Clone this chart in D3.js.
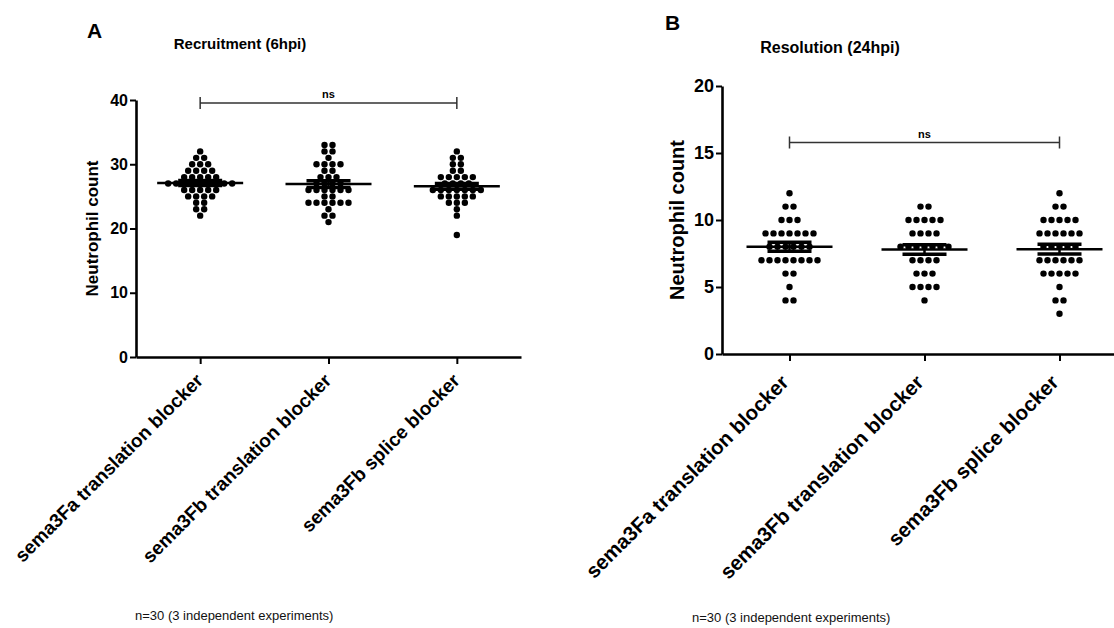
<!DOCTYPE html>
<html>
<head>
<meta charset="utf-8">
<script src="https://cdnjs.cloudflare.com/ajax/libs/d3/7.8.5/d3.min.js"></script>
<style>
  body { margin: 0; background: #fff; }
  svg { display: block; font-family: "Liberation Sans", Arial, sans-serif; }
  .axis path, .axis line { stroke: #000; }
  .axis text { fill: #000; font-weight: bold; font-family: "Liberation Sans", Arial, sans-serif; }
</style>
</head>
<body>
<div id="graph"></div>
<script>
const graphWidth = 1114;
const graphHeight = 628;

const groupNames = ['sema3Fa translation blocker', 'sema3Fb translation blocker', 'sema3Fb splice blocker'];

// neutrophil counts per larva
const recruitFaTrans = [32,31,31,30,30,30,29,29,29,29,28,28,28,28,28,27,27,27,27,27,27,27,27,27,26,26,26,26,26,25,25,25,25,24,24,23,23,22];
const recruitFbTrans = [33,33,32,32,31,30,30,30,30,29,29,28,28,28,27,27,27,27,26,26,26,26,26,26,25,25,24,24,24,24,24,24,23,22,22,21];
const recruitFbSplice = [32,31,31,30,30,29,29,28,28,28,28,28,27,27,27,27,26,26,26,26,26,26,26,25,25,25,25,25,24,24,24,23,22,19];

const resolveFaTrans = [12,11,11,10,10,10,9,9,9,9,9,9,9,8,8,8,8,8,8,7,7,7,7,7,7,7,7,6,6,5,4,4];
const resolveFbTrans = [11,11,10,10,10,10,10,9,9,9,9,8,8,8,8,8,8,8,7,7,7,7,6,6,6,5,5,5,5,4];
const resolveFbSplice = [12,11,11,10,10,10,10,10,9,9,9,9,9,9,8,8,8,8,8,7,7,7,7,7,7,6,6,6,6,6,5,4,4,3];

const recruitTicks = [0, 10, 20, 30, 40];
const resolveTicks = [0, 5, 10, 15, 20];

const panels = [
  {
    letter: 'A', title: 'Recruitment (6hpi)', data: [recruitFaTrans, recruitFbTrans, recruitFbSplice],
    ticks: recruitTicks, yMax: 40, nsLevel: 40,
    left: 136, right: 521, top: 100, bottom: 357,
    letterPos: [87, 38], titlePos: [240, 49], yLabelX: 98, footPos: [135, 620],
    tickFont: 16, labelFont: 17, catFont: 19, catOffset: [-15, 20], titleFont: 15
  },
  {
    letter: 'B', title: 'Resolution (24hpi)', data: [resolveFaTrans, resolveFbTrans, resolveFbSplice],
    ticks: resolveTicks, yMax: 20, nsLevel: 16,
    left: 722, right: 1127, top: 86, bottom: 354,
    letterPos: [665, 30], titlePos: [830, 53], yLabelX: 684, footPos: [692, 622],
    tickFont: 18, labelFont: 20, catFont: 20.5, catOffset: [-21, 21], titleFont: 16
  }
];

const dotRadius = 3.2;
const dotSpacing = 8;

function makeGraph() {
  const palette = d3.select('#graph').append('svg')
    .attr('width', graphWidth).attr('height', graphHeight);
  palette.append('rect').attr('width', graphWidth).attr('height', graphHeight).attr('fill', '#fff');
  panels.forEach(p => makePanel(palette.append('g'), p));
}

function makePanel(g, p) {
  const x = d3.scalePoint().domain(groupNames).range([p.left, p.right]).padding(0.5);
  const y = d3.scaleLinear().domain([0, p.yMax]).range([p.bottom, p.top]);

  // y axis
  const yAxis = g.append('g').attr('class', 'axis')
    .attr('transform', translate(p.left, 0))
    .call(d3.axisLeft(y).tickValues(p.ticks).tickSize(6).tickSizeOuter(0).tickPadding(2));
  yAxis.select('.domain').attr('stroke-width', 2.6);
  yAxis.selectAll('.tick line').attr('stroke-width', 2);
  yAxis.selectAll('.tick text').attr('font-size', p.tickFont);

  // x axis with slanted group names
  const xAxis = g.append('g').attr('class', 'axis')
    .attr('transform', translate(0, p.bottom))
    .call(d3.axisBottom(x).tickSize(7).tickSizeOuter(0));
  xAxis.select('.domain').attr('stroke-width', 2.6);
  xAxis.selectAll('.tick line').attr('stroke-width', 2);
  xAxis.selectAll('.tick text')
    .attr('font-size', p.catFont)
    .attr('text-anchor', 'end')
    .attr('x', p.catOffset[0]).attr('y', p.catOffset[1]).attr('dy', 0)
    .attr('transform', 'rotate(-45)');

  // y label
  g.append('text')
    .attr('transform', translate(p.yLabelX, (p.top + p.bottom) / 2) + ' rotate(-90)')
    .attr('text-anchor', 'middle')
    .attr('font-weight', 'bold').attr('font-size', p.labelFont)
    .text('Neutrophil count');

  // dots
  p.data.forEach((vals, i) => {
    const cx = x(groupNames[i]);
    construct(g.append('g'), layoutDots(vals, cx, y), 'circle')
      .attr('cx', d => d.x).attr('cy', d => d.y).attr('r', dotRadius).attr('fill', '#000');
  });

  // mean and SEM
  p.data.forEach((vals, i) => {
    const cx = x(groupNames[i]);
    const m = d3.mean(vals);
    const sem = d3.deviation(vals) / Math.sqrt(vals.length);
    g.append('line').attr('x1', cx).attr('x2', cx).attr('y1', y(m + sem)).attr('y2', y(m - sem))
      .attr('stroke', '#000').attr('stroke-width', 2.5);
    [m + sem, m - sem].forEach(v => {
      g.append('line').attr('x1', cx - 22).attr('x2', cx + 22).attr('y1', y(v)).attr('y2', y(v))
        .attr('stroke', '#000').attr('stroke-width', 3.5);
    });
    g.append('line').attr('x1', cx - 43).attr('x2', cx + 43).attr('y1', y(m)).attr('y2', y(m))
      .attr('stroke', '#000').attr('stroke-width', 2.5);
  });

  // ns bracket
  const x0 = x(groupNames[0]), x1 = x(groupNames[2]), yb = y(p.nsLevel) + 3;
  g.append('path')
    .attr('d', `M${x0},${yb - 6}V${yb + 6}M${x0},${yb}H${x1}M${x1},${yb - 6}V${yb + 6}`)
    .attr('fill', 'none').attr('stroke', '#333').attr('stroke-width', 1.5);
  g.append('text').attr('x', (x0 + x1) / 2).attr('y', yb - 5)
    .attr('text-anchor', 'middle').attr('font-weight', 'bold').attr('font-size', 11)
    .text('ns');

  // panel letter, title, footnote
  g.append('text').attr('x', p.letterPos[0]).attr('y', p.letterPos[1])
    .attr('font-weight', 'bold').attr('font-size', 21).text(p.letter);
  g.append('text').attr('x', p.titlePos[0]).attr('y', p.titlePos[1])
    .attr('text-anchor', 'middle').attr('font-weight', 'bold').attr('font-size', p.titleFont)
    .text(p.title);
  g.append('text').attr('x', p.footPos[0]).attr('y', p.footPos[1])
    .attr('font-size', 13).attr('fill', '#111')
    .text('n=30 (3 independent experiments)');
}

// Utilities

function layoutDots(values, cx, y) {
  const out = [];
  d3.group(values, v => v).forEach((vals, v) => {
    const n = vals.length;
    vals.forEach((_, i) => out.push({x: cx + (i - (n - 1) / 2) * dotSpacing, y: y(v)}));
  });
  return out;
}

function construct(sel, data, tag) {
  return sel.selectAll(tag).data(data).enter().append(tag);
}

function translate(x, y) {
  return 'translate(' + x + ',' + y + ')';
}

makeGraph();
</script>
</body>
</html>
